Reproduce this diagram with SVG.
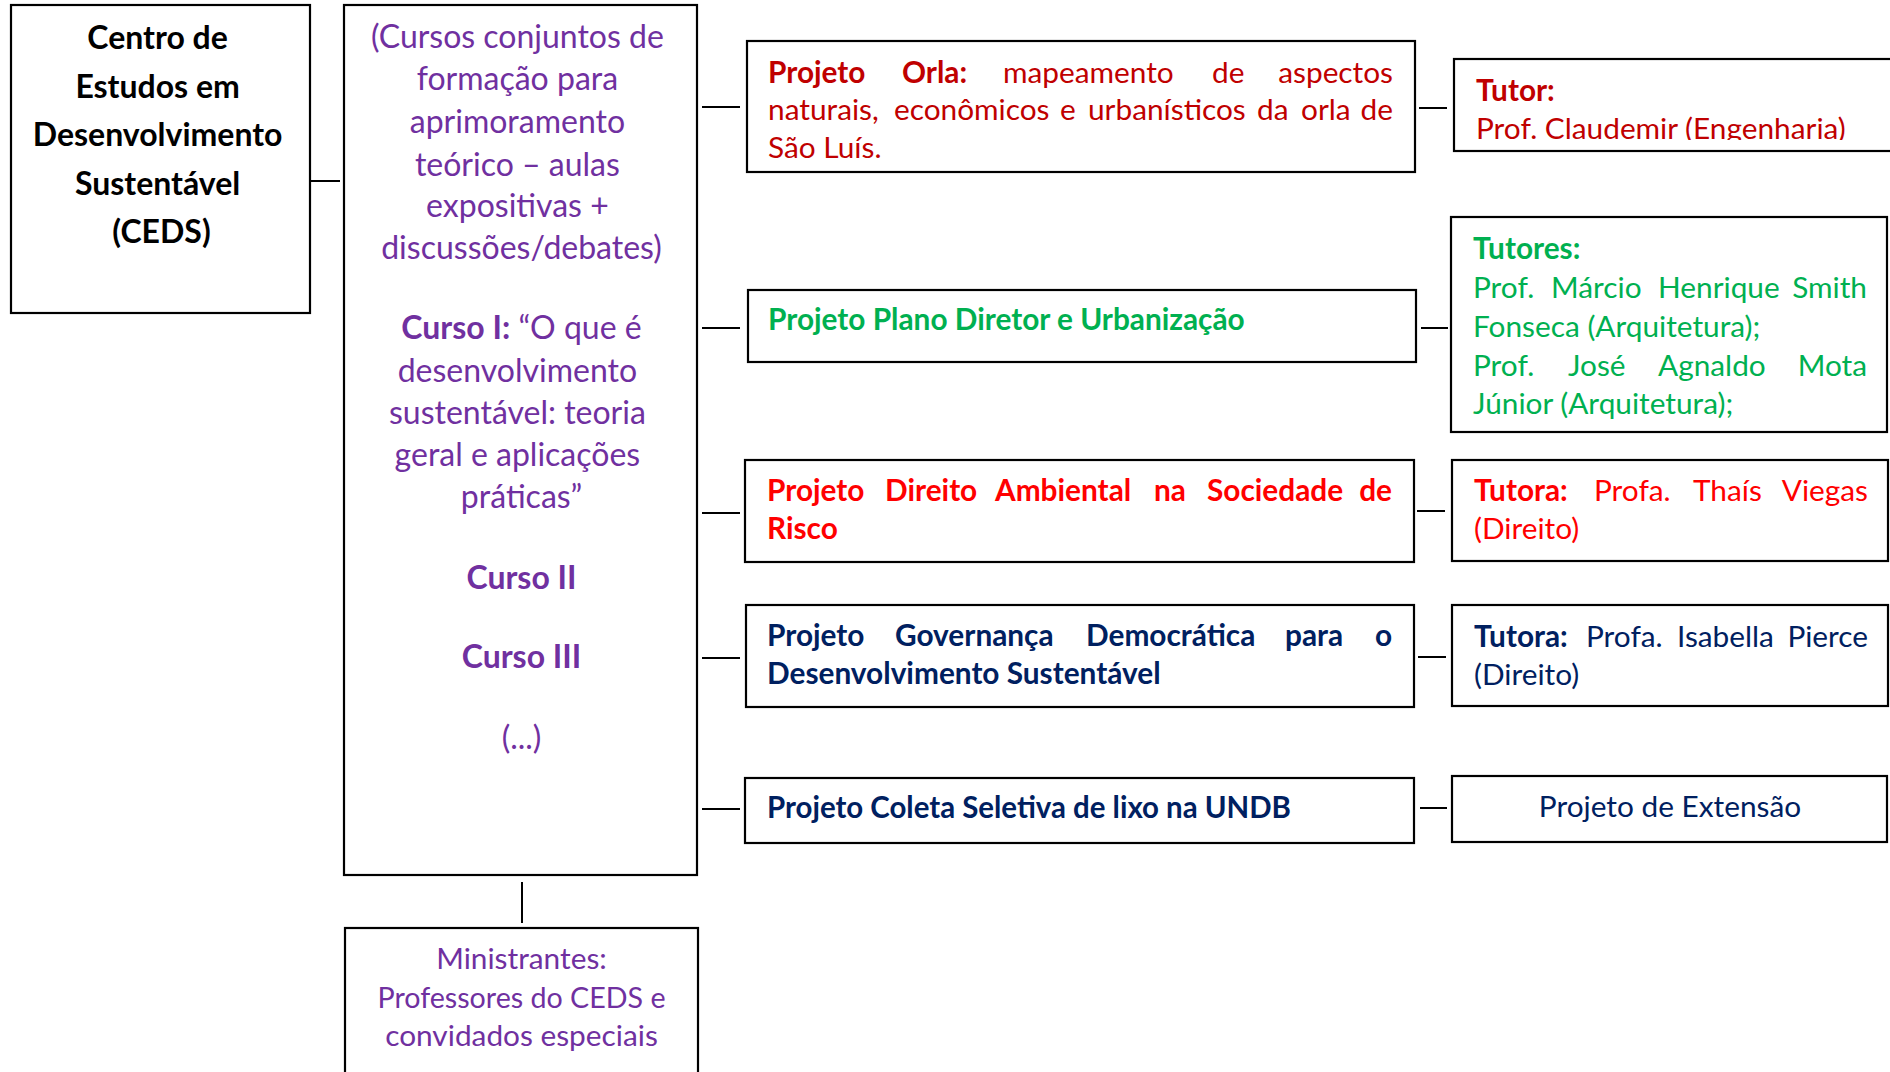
<svg xmlns="http://www.w3.org/2000/svg" width="1890" height="1072" viewBox="0 0 1890 1072">
<style>
.box{fill:#fff;stroke:#000;stroke-width:2.2}
.conn line{stroke:#000;stroke-width:2}
text{font-family:Lato,"Open Sans","Liberation Sans",sans-serif}
.b{font-weight:700}
.f1{font-size:32px}
.f2{font-size:29.8px}
.mid{text-anchor:middle}
.end{text-anchor:end}
.pur{fill:#7030A0}
.dred{fill:#C00000}
.grn{fill:#00B050}
.red{fill:#FF0000}
.navy{fill:#002060}
.blk{fill:#000}
</style>
<defs>
<clipPath id="tutorClip"><rect x="1454" y="59" width="440" height="81"/></clipPath>
</defs>
<rect width="1890" height="1072" fill="#fff"/>

<g id="connectors" class="conn">
<line x1="311" y1="181" x2="340" y2="181"/>
<line x1="522" y1="882" x2="522" y2="923"/>
<line x1="702" y1="107" x2="740" y2="107"/>
<line x1="702" y1="328" x2="740" y2="328"/>
<line x1="702" y1="513" x2="740" y2="513"/>
<line x1="702" y1="658" x2="740" y2="658"/>
<line x1="702" y1="809" x2="740" y2="809"/>
<line x1="1419" y1="108" x2="1447" y2="108"/>
<line x1="1421" y1="328" x2="1448" y2="328"/>
<line x1="1417" y1="511" x2="1445" y2="511"/>
<line x1="1418" y1="657" x2="1446" y2="657"/>
<line x1="1420" y1="808" x2="1447" y2="808"/>
</g>

<g id="ceds">
<rect class="box" x="11" y="5" width="299" height="308"/>
<text class="f1 b blk mid">
<tspan x="161.5" y="49">Centro de</tspan>
<tspan x="161.5" y="98">Estudos em</tspan>
<tspan x="161.5" y="146">Desenvolvimento</tspan>
<tspan x="161.5" y="195">Sustentável</tspan>
<tspan x="161.5" y="243">(CEDS)</tspan>
</text>
</g>

<g id="cursos">
<rect class="box" x="344" y="5" width="353" height="870"/>
<text class="f1 pur mid">
<tspan x="521.5" y="48">(Cursos conjuntos de</tspan>
<tspan x="521.5" y="90">formação para</tspan>
<tspan x="521.5" y="133">aprimoramento</tspan>
<tspan x="521.5" y="176">teórico – aulas</tspan>
<tspan x="521.5" y="217">expositivas +</tspan>
<tspan x="521.5" y="259">discussões/debates)</tspan>
</text>
<text class="f1 pur mid" x="521.5" y="339"><tspan class="b">Curso I:</tspan> “O que é</text>
<text class="f1 pur mid">
<tspan x="521.5" y="382">desenvolvimento</tspan>
<tspan x="521.5" y="424">sustentável: teoria</tspan>
<tspan x="521.5" y="466">geral e aplicações</tspan>
<tspan x="521.5" y="508">práticas”</tspan>
</text>
<text class="f1 pur mid b" x="521.5" y="589">Curso II</text>
<text class="f1 pur mid b" x="521.5" y="668">Curso III</text>
<text class="f1 pur mid" x="521.5" y="749">(...)</text>
</g>

<g id="ministrantes">
<rect class="box" x="345" y="928" width="353" height="160"/>
<text class="f2 pur mid" x="521.5" y="969">Ministrantes:</text>
<text class="f2 pur mid" x="521.5" y="1008" textLength="288" lengthAdjust="spacingAndGlyphs">Professores do CEDS e</text>
<text class="f2 pur mid" x="521.5" y="1046">convidados especiais</text>
</g>

<g id="orla">
<rect class="box" x="747" y="41" width="668" height="131"/>
<text class="f2 dred" y="83"><tspan x="768" class="b">Projeto</tspan><tspan x="902" class="b">Orla:</tspan><tspan x="1003">mapeamento</tspan><tspan x="1212">de</tspan></text>
<text class="f2 dred end" x="1393" y="83">aspectos</text>
<text class="f2 dred" y="120"><tspan x="768">naturais,</tspan><tspan x="894">econômicos</tspan><tspan x="1060">e</tspan><tspan x="1088">urbanísticos</tspan><tspan x="1257">da</tspan><tspan x="1301">orla</tspan></text>
<text class="f2 dred end" x="1393" y="120">de</text>
<text class="f2 dred" x="768" y="158">São Luís.</text>
</g>

<g id="plano">
<rect class="box" x="748" y="290" width="668" height="72"/>
<text class="f2 b grn" x="768" y="330">Projeto Plano Diretor e Urbanização</text>
</g>

<g id="direito">
<rect class="box" x="745" y="460" width="669" height="102"/>
<text class="f2 b red" y="501"><tspan x="767">Projeto</tspan><tspan x="885">Direito</tspan><tspan x="995">Ambiental</tspan><tspan x="1154">na</tspan><tspan x="1207">Sociedade</tspan></text>
<text class="f2 b red end" x="1392" y="501">de</text>
<text class="f2 b red" x="767" y="539">Risco</text>
</g>

<g id="governanca">
<rect class="box" x="746" y="605" width="668" height="102"/>
<text class="f2 b navy" y="646"><tspan x="767">Projeto</tspan><tspan x="895">Governança</tspan><tspan x="1086">Democrática</tspan><tspan x="1285">para</tspan></text>
<text class="f2 b navy end" x="1392" y="646">o</text>
<text class="f2 b navy" x="767" y="684">Desenvolvimento Sustentável</text>
</g>

<g id="coleta">
<rect class="box" x="745" y="778" width="669" height="65"/>
<text class="f2 b navy" x="767" y="818" textLength="524" lengthAdjust="spacingAndGlyphs">Projeto Coleta Seletiva de lixo na UNDB</text>
</g>

<g id="tutor-orla">
<rect class="box" x="1454" y="59" width="440" height="92"/>
<text class="f2 b dred" x="1476" y="101">Tutor:</text>
<text class="f2 dred" x="1476" y="139" clip-path="url(#tutorClip)">Prof. Claudemir (Engenharia)</text>
</g>

<g id="tutores-plano">
<rect class="box" x="1451" y="217" width="436" height="215"/>
<text class="f2 b grn" x="1473" y="259">Tutores:</text>
<text class="f2 grn" y="298"><tspan x="1473">Prof.</tspan><tspan x="1551">Márcio</tspan><tspan x="1658">Henrique</tspan></text>
<text class="f2 grn end" x="1867" y="298">Smith</text>
<text class="f2 grn" x="1473" y="337">Fonseca (Arquitetura);</text>
<text class="f2 grn" y="376"><tspan x="1473">Prof.</tspan><tspan x="1568">José</tspan><tspan x="1658">Agnaldo</tspan></text>
<text class="f2 grn end" x="1867" y="376">Mota</text>
<text class="f2 grn" x="1473" y="414">Júnior (Arquitetura);</text>
</g>

<g id="tutora-direito">
<rect class="box" x="1452" y="460" width="436" height="101"/>
<text class="f2 red" y="501"><tspan x="1474" class="b">Tutora:</tspan><tspan x="1594">Profa.</tspan><tspan x="1693">Thaís</tspan></text>
<text class="f2 red end" x="1868" y="501">Viegas</text>
<text class="f2 red" x="1474" y="539">(Direito)</text>
</g>

<g id="tutora-governanca">
<rect class="box" x="1452" y="605" width="436" height="101"/>
<text class="f2 navy" y="647"><tspan x="1474" class="b">Tutora:</tspan><tspan x="1586">Profa.</tspan><tspan x="1677">Isabella</tspan></text>
<text class="f2 navy end" x="1868" y="647">Pierce</text>
<text class="f2 navy" x="1474" y="685">(Direito)</text>
</g>

<g id="extensao">
<rect class="box" x="1452" y="776" width="435" height="66"/>
<text class="f2 navy mid" x="1670" y="817">Projeto de Extensão</text>
</g>
</svg>
